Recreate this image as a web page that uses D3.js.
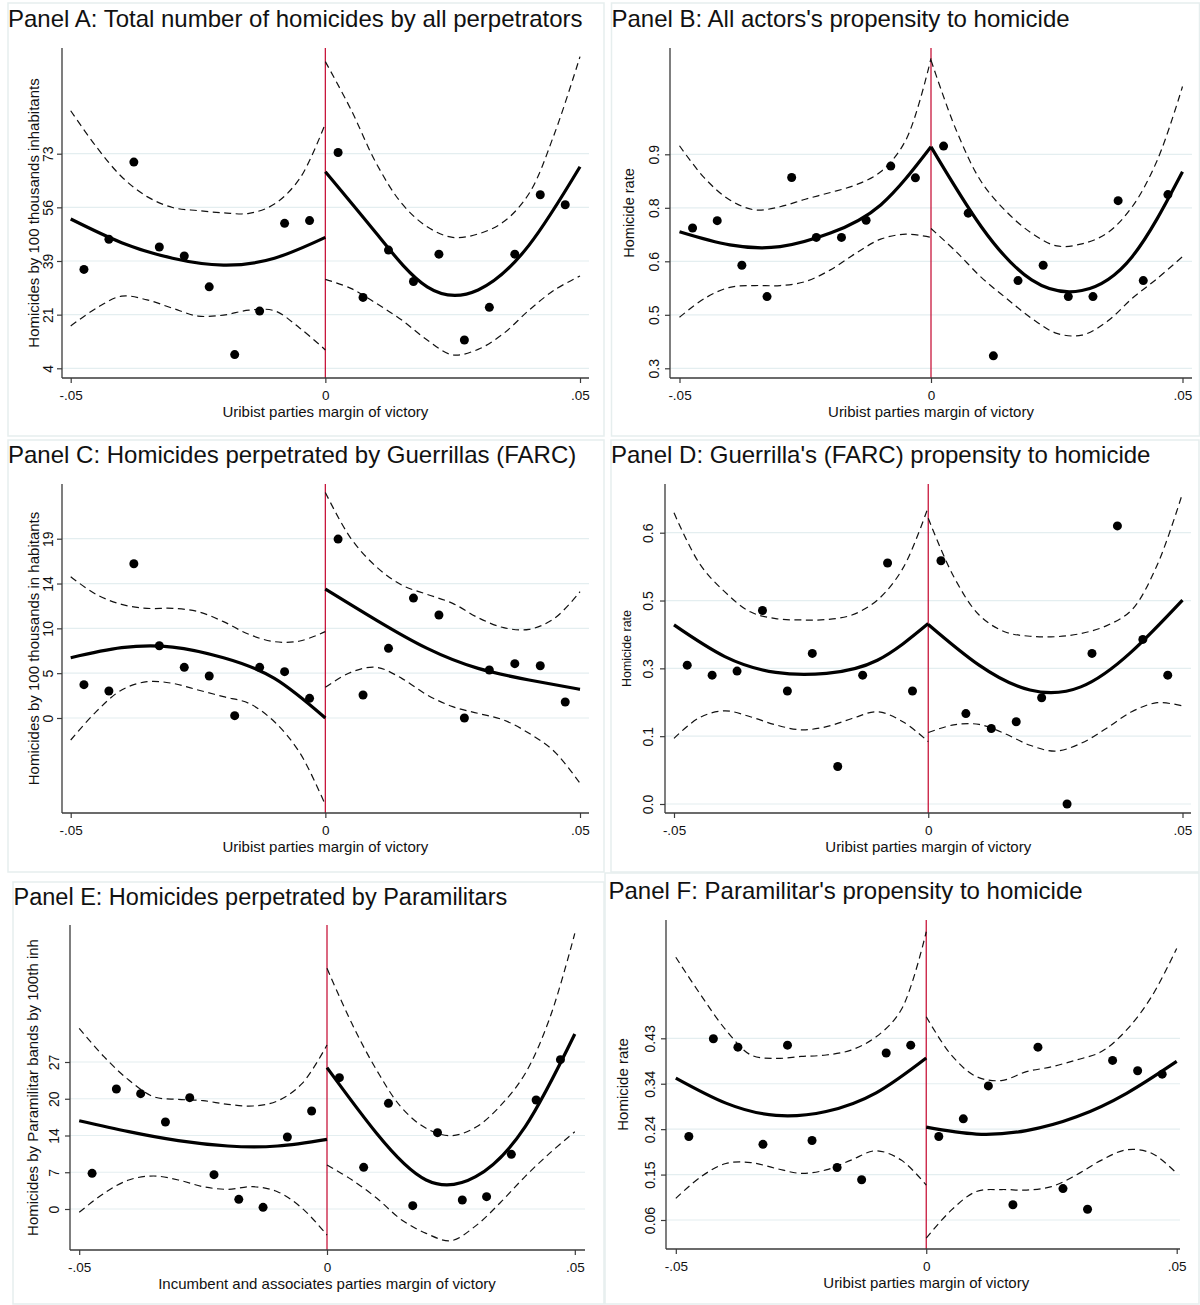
<!DOCTYPE html>
<html><head><meta charset="utf-8">
<script src="https://cdn.jsdelivr.net/npm/d3@7"></script>
<style>
body{margin:0;background:#fff}
svg{display:block}
text{font-family:"Liberation Sans",Arial,Helvetica,sans-serif;fill:#111}
</style>
</head><body>
<svg id="chart" width="1200" height="1305"></svg>
<script>
// ---------- shared data ----------
const xTickValues = [-0.05, 0, 0.05];
const xTickLabels = ["-.05", "0", ".05"];
const binX = [-0.0474,-0.0425,-0.0376,-0.0326,-0.0277,-0.0228,-0.0178,-0.0129,-0.0080,-0.0031,
              0.0025,0.0074,0.0124,0.0173,0.0223,0.0273,0.0322,0.0372,0.0422,0.0471];
const fitXLeft  = [-0.05,-0.04,-0.03,-0.02,-0.01,0];
const fitXRight = [0,0.01,0.02,0.03,0.04,0.05];
const ciXLeft  = [-0.05,-0.045,-0.04,-0.035,-0.03,-0.025,-0.02,-0.015,-0.01,-0.005,0];
const ciXRight = [0,0.005,0.01,0.015,0.02,0.025,0.03,0.035,0.04,0.045,0.05];

const panelTitles = [
  "Panel A: Total number of homicides by all perpetrators",
  "Panel B: All actors's propensity to homicide",
  "Panel C: Homicides perpetrated by Guerrillas (FARC)",
  "Panel D: Guerrilla's (FARC) propensity to homicide",
  "Panel E: Homicides perpetrated by Paramilitars",
  "Panel F: Paramilitar's propensity to homicide"
];
const yTitles = [
  "Homicides by 100 thousands inhabitants",
  "Homicide rate",
  "Homicides by 100 thousands in habitants",
  "Homicide rate",
  "Homicides by Paramilitar bands by 100th inh",
  "Homicide rate"
];
const xTitles = [
  "Uribist parties margin of victory",
  "Uribist parties margin of victory",
  "Uribist parties margin of victory",
  "Uribist parties margin of victory",
  "Incumbent and associates parties margin of victory",
  "Uribist parties margin of victory"
];

// ---------- Panel A ----------
const aYTicks = [4, 21.25, 38.5, 55.75, 73];
const aYLabels = ["4", "21", "39", "56", "73"];
const aDots = [35.8,45.5,70.3,43.0,40.1,30.2,8.4,22.4,50.6,51.5, 73.4,26.8,42.0,31.9,40.7,13.1,23.6,40.7,59.8,56.6];
const aFitL = [52.0,44.4,39.4,37.2,39.4,46.1];
const aFitR = [67.2,47.4,30.2,29.2,43.6,68.8];
const aHiL = [86.8,75.3,65.6,59.2,55.7,54.7,54.0,53.8,56.8,65.1,82.7];
const aLoL = [17.6,23.3,27.2,26.0,23.3,20.8,21.1,22.7,22.5,16.9,9.9];
const aHiR = [102.6,87.3,69.9,57.0,49.5,46.1,47.2,51.1,60.2,79.5,104.2];
const aLoR = [32.6,29.7,24.9,19.5,13.1,8.3,10.1,15.2,22.7,29.2,33.7];

// ---------- Panel B ----------
const bYTicks = [0.33, 0.48, 0.63, 0.78, 0.93];
const bYLabels = ["0.3", "0.5", "0.6", "0.8", "0.9"];
const bDots = [0.7235,0.744,0.619,0.531,0.865,0.697,0.697,0.745,0.897,0.864, 0.953,0.765,0.365,0.576,0.619,0.531,0.531,0.800,0.576,0.817];
const bFitL = [0.713,0.676,0.671,0.709,0.788,0.951];
const bFitR = [0.951,0.727,0.578,0.548,0.643,0.881];
const bHiL = [0.954,0.863,0.802,0.774,0.783,0.804,0.823,0.844,0.881,0.970,1.199];
const bLoL = [0.473,0.526,0.557,0.562,0.562,0.573,0.606,0.652,0.692,0.706,0.697];
const bHiR = [1.194,0.998,0.853,0.769,0.709,0.673,0.679,0.709,0.783,0.914,1.12];
const bLoR = [0.722,0.657,0.585,0.526,0.470,0.428,0.423,0.461,0.526,0.582,0.643];

// ---------- Panel C ----------
const cYTicks = [0, 4.75, 9.5, 14.25, 19];
const cYLabels = ["0", "5", "10", "14", "19"];
const cDots = [3.53,2.86,16.35,7.66,5.37,4.45,0.25,5.37,4.91,2.08, 18.96,2.44,7.38,12.71,10.91,0,5.09,5.76,5.54,1.70];
const cFitL = [6.39,7.45,7.52,6.39,4.20,0];
const cFitR = [13.67,10.38,7.38,5.26,4.03,3.04];
const cHiL = [14.97,13.1,12.04,11.62,11.62,11.27,10.21,8.86,8.09,8.16,9.15];
const cLoL = [-2.33,0.67,2.97,3.85,3.67,2.97,2.26,1.55,-0.4,-3.7,-9.22];
const cHiR = [23.9,19.04,16.03,14.09,13.1,12.15,10.63,9.57,9.39,10.56,13.38];
const cLoR = [3.25,4.84,5.37,4.2,2.44,1.2,0.49,-0.21,-1.62,-3.57,-6.92];

// ---------- Panel D ----------
const dYTicks = [0, 0.15, 0.3, 0.45, 0.6];
const dYLabels = ["0.0", "0.1", "0.3", "0.5", "0.6"];
const dDots = [0.307,0.285,0.294,0.428,0.250,0.333,0.083,0.285,0.533,0.250, 0.538,0.200,0.167,0.182,0.235,0,0.333,0.615,0.364,0.285];
const dFitL = [0.396,0.326,0.291,0.289,0.318,0.399];
const dFitR = [0.397,0.307,0.252,0.259,0.337,0.451];
const dHiL = [0.644,0.532,0.469,0.425,0.410,0.407,0.408,0.418,0.451,0.521,0.657];
const dLoL = [0.145,0.191,0.206,0.193,0.175,0.164,0.171,0.189,0.204,0.182,0.138];
const dHiR = [0.632,0.503,0.418,0.381,0.371,0.370,0.377,0.394,0.429,0.528,0.687];
const dLoR = [0.158,0.175,0.176,0.156,0.130,0.117,0.134,0.167,0.204,0.224,0.217];

// ---------- Panel E ----------
const eYTicks = [0, 6.75, 13.5, 20.25, 27];
const eYLabels = ["0", "7", "14", "20", "27"];
const eDots = [6.55,22.04,21.18,15.98,20.45,6.31,1.78,0.31,13.22,18.0, 24.12,7.65,19.41,0.61,14.02,1.65,2.27,10.04,20.02,27.43];
const eFitL = [16.22,14.2,12.55,11.57,11.57,12.80];
const eFitR = [25.96,13.9,5.33,5.94,15.12,32.14];
const eHiL = [33.18,27.98,23.69,20.63,20.14,19.9,19.22,18.92,19.84,23.08,30.12];
const eLoL = [-0.61,2.88,5.33,6.06,5.33,4.1,3.61,4.1,3.18,0.12,-4.78];
const eHiR = [44.2,34.1,25.53,18.67,14.82,13.47,15.0,18.98,24.9,35.2,50.63];
const eLoR = [8.08,5.36,2.02,-1.96,-4.47,-5.82,-3.1,1.2,6.0,10.3,14.2];

// ---------- Panel F ----------
const fYTicks = [0.06, 0.1525, 0.245, 0.3375, 0.43];
const fYLabels = ["0.06", "0.15", "0.24", "0.34", "0.43"];
const fDots = [0.230,0.429,0.412,0.214,0.416,0.222,0.167,0.142,0.400,0.416, 0.230,0.266,0.333,0.091,0.412,0.124,0.082,0.385,0.364,0.357];
const fFitL = [0.349,0.298,0.273,0.281,0.319,0.390];
const fFitR = [0.249,0.235,0.242,0.270,0.318,0.383];
const fHiL = [0.595,0.518,0.447,0.396,0.389,0.393,0.396,0.406,0.433,0.488,0.647];
const fLoL = [0.104,0.148,0.175,0.177,0.165,0.155,0.162,0.182,0.201,0.182,0.131];
const fHiR = [0.474,0.396,0.352,0.344,0.362,0.372,0.386,0.403,0.447,0.515,0.613];
const fLoR = [0.023,0.080,0.118,0.122,0.121,0.128,0.152,0.182,0.203,0.196,0.155];

// ---------- layout (pixel geometry only) ----------
const layouts = [
  {x0:70.7, x1:580,   axisX:62,  axisEnd:589,  yT0:368.3, yT4:153.7, top:48,  bottom:378,  box:[8,3,596,433],     tx:8,     ty:27,  tSize:24,   ytx:34,  ylx:48,  ytSize:15},
  {x0:679.5,x1:1182.5,axisX:670, axisEnd:1192, yT0:368.3, yT4:154.3, top:48,  bottom:378,  box:[611.5,3,588,433], tx:611.5, ty:27,  tSize:24,   ytx:629, ylx:654, ytSize:14.5},
  {x0:70.7, x1:580,   axisX:62,  axisEnd:589,  yT0:718,   yT4:538.7, top:484, bottom:813,  box:[8,440,596,432],   tx:8,     ty:463, tSize:24,   ytx:34,  ylx:48,  ytSize:15},
  {x0:674,  x1:1182.5,axisX:665, axisEnd:1191, yT0:804,   yT4:532.7, top:484, bottom:813,  box:[611,440,588,432], tx:611,   ty:463, tSize:24,   ytx:626, ylx:648, ytSize:12.5},
  {x0:79.2, x1:574.8, axisX:70,  axisEnd:585,  yT0:1209,  yT4:1062,  top:925, bottom:1250, box:[13,882,591,422],  tx:13.5,  ty:905, tSize:23.5, ytx:33,  ylx:54,  ytSize:15},
  {x0:675.8,x1:1176.7,axisX:666, axisEnd:1180, yT0:1220,  yT4:1038.3,top:920, bottom:1249, box:[605,873,594,431], tx:608.5, ty:899, tSize:24,   ytx:623, ylx:650, ytSize:15}
];

const panels = [
  {yTicks:aYTicks, yLabels:aYLabels, dots:aDots, fitL:aFitL, fitR:aFitR, hiL:aHiL, loL:aLoL, hiR:aHiR, loR:aLoR},
  {yTicks:bYTicks, yLabels:bYLabels, dots:bDots, fitL:bFitL, fitR:bFitR, hiL:bHiL, loL:bLoL, hiR:bHiR, loR:bLoR},
  {yTicks:cYTicks, yLabels:cYLabels, dots:cDots, fitL:cFitL, fitR:cFitR, hiL:cHiL, loL:cLoL, hiR:cHiR, loR:cLoR},
  {yTicks:dYTicks, yLabels:dYLabels, dots:dDots, fitL:dFitL, fitR:dFitR, hiL:dHiL, loL:dLoL, hiR:dHiR, loR:dLoR},
  {yTicks:eYTicks, yLabels:eYLabels, dots:eDots, fitL:eFitL, fitR:eFitR, hiL:eHiL, loL:eLoL, hiR:eHiR, loR:eLoR},
  {yTicks:fYTicks, yLabels:fYLabels, dots:fDots, fitL:fFitL, fitR:fFitR, hiL:fHiL, loL:fLoL, hiR:fHiR, loR:fLoR}
];

const svg = d3.select("#chart");
svg.append("rect").attr("width",1200).attr("height",1305).attr("fill","#fff");

const AXIS_COLOR = "#3a3a3a";
const GRID_COLOR = "#e4eef0";
const RED = "#c8173c";

function drawPanel(P, L, i) {
  const g = svg.append("g");
  g.append("rect").attr("x",L.box[0]).attr("y",L.box[1]).attr("width",L.box[2]).attr("height",L.box[3])
    .attr("fill","none").attr("stroke","#e6eeee").attr("stroke-width",1.5);

  const x = d3.scaleLinear().domain([-0.05,0.05]).range([L.x0,L.x1]);
  const y = d3.scaleLinear().domain([P.yTicks[0], P.yTicks[4]]).range([L.yT0, L.yT4]);

  // gridlines
  g.append("g").selectAll("line").data(P.yTicks).join("line")
    .attr("x1",L.axisX).attr("x2",L.axisEnd)
    .attr("y1",d=>y(d)).attr("y2",d=>y(d))
    .attr("stroke",GRID_COLOR).attr("stroke-width",1.2);

  // red cutoff line
  g.append("line").attr("x1",x(0)).attr("x2",x(0)).attr("y1",L.top).attr("y2",L.bottom)
    .attr("stroke",RED).attr("stroke-width",1.3);

  const ciLine = d3.line().x(d=>x(d[0])).y(d=>y(d[1])).curve(d3.curveCatmullRom.alpha(0.5));
  const fitLine = d3.line().x(d=>x(d[0])).y(d=>y(d[1])).curve(d3.curveNatural);

  const ciSets = [[ciXLeft,P.hiL],[ciXLeft,P.loL],[ciXRight,P.hiR],[ciXRight,P.loR]];
  ciSets.forEach(([xs,ys]) => {
    g.append("path").attr("d", ciLine(xs.map((v,k)=>[v,ys[k]])))
      .attr("fill","none").attr("stroke","#111").attr("stroke-width",1.2)
      .attr("stroke-dasharray","7,4.5");
  });
  [[fitXLeft,P.fitL],[fitXRight,P.fitR]].forEach(([xs,ys]) => {
    g.append("path").attr("d", fitLine(xs.map((v,k)=>[v,ys[k]])))
      .attr("fill","none").attr("stroke","#000").attr("stroke-width",3.2)
      .attr("stroke-linecap","butt");
  });

  g.append("g").selectAll("circle").data(P.dots).join("circle")
    .attr("cx",(d,k)=>x(binX[k])).attr("cy",d=>y(d)).attr("r",4.5).attr("fill","#000");

  // y axis
  const ya = g.append("g").attr("transform",`translate(${L.axisX},0)`)
    .call(d3.axisLeft(y).tickValues(P.yTicks).tickFormat((d,k)=>P.yLabels[k]).tickSize(5).tickSizeOuter(0));
  ya.select(".domain").remove();
  ya.selectAll(".tick line").attr("stroke",AXIS_COLOR).attr("stroke-width",1.2);
  ya.selectAll(".tick text")
    .attr("x",0).attr("dy","0.36em").attr("text-anchor","middle")
    .attr("transform",`translate(${L.ylx - L.axisX},0) rotate(-90)`)
    .attr("font-size",14).attr("fill","#222");
  g.append("line").attr("x1",L.axisX).attr("x2",L.axisX).attr("y1",L.top).attr("y2",L.bottom)
    .attr("stroke",AXIS_COLOR).attr("stroke-width",1.3);

  // x axis
  const xa = g.append("g").attr("transform",`translate(0,${L.bottom})`)
    .call(d3.axisBottom(x).tickValues(xTickValues).tickFormat((d,k)=>xTickLabels[k]).tickSize(5).tickSizeOuter(0));
  xa.select(".domain").remove();
  xa.selectAll(".tick line").attr("stroke",AXIS_COLOR).attr("stroke-width",1.2);
  xa.selectAll(".tick text").attr("y",22).attr("dy",0).attr("font-size",13.5).attr("fill","#222");
  g.append("line").attr("x1",L.axisX).attr("x2",L.axisEnd).attr("y1",L.bottom).attr("y2",L.bottom)
    .attr("stroke",AXIS_COLOR).attr("stroke-width",1.3);

  // titles
  g.append("text").attr("x",L.tx).attr("y",L.ty).attr("font-size",L.tSize).attr("fill","#000")
    .text(panelTitles[i]);
  g.append("text").attr("x",x(0)).attr("y",L.bottom+39).attr("text-anchor","middle")
    .attr("font-size",15).attr("fill","#222").text(xTitles[i]);
  g.append("text").attr("transform",`translate(${L.ytx},${(L.top+L.bottom)/2}) rotate(-90)`)
    .attr("text-anchor","middle").attr("dy","0.36em").attr("font-size",L.ytSize).attr("fill","#222")
    .text(yTitles[i]);
}

panels.forEach((P,i)=>drawPanel(P, layouts[i], i));
</script>
</body></html>
